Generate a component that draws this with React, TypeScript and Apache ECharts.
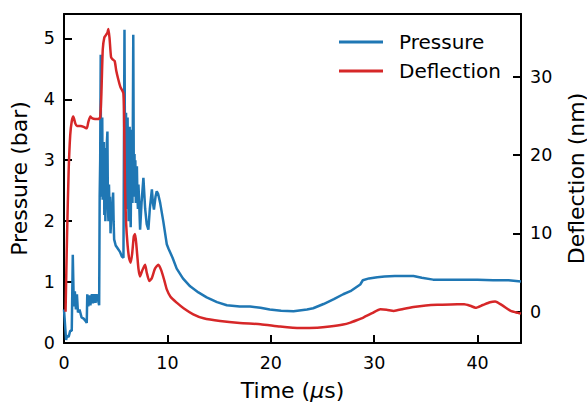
import React, { useEffect, useRef } from "react";
import * as echarts from "echarts";

// Pressure trace (time in µs, pressure in bar)
const pressureTime = [
  0.0, 0.1, 0.2, 0.3, 0.45, 0.6, 0.75, 0.85, 0.95, 1.05, 1.15, 1.25, 1.35, 1.5, 1.7, 1.9, 2.1, 2.2,
  2.25, 2.35, 2.45, 2.55, 2.7, 2.8, 2.95, 3.05, 3.15, 3.3, 3.4,
  3.45, 3.5, 3.55, 3.58, 3.62, 3.66, 3.7, 3.74, 3.78, 3.82, 3.86, 3.9, 3.95, 4.0, 4.05, 4.1, 4.15,
  4.2, 4.25, 4.3, 4.35, 4.4, 4.45, 4.5, 4.6, 4.7, 4.75, 4.8, 4.85, 5.0, 5.2, 5.4, 5.6, 5.75,
  5.85, 5.9, 5.95, 6.0, 6.04, 6.08, 6.12, 6.15, 6.2, 6.25, 6.3, 6.35, 6.4, 6.45, 6.5, 6.55, 6.6,
  6.62, 6.7, 6.75, 6.78, 6.82, 6.85, 6.9, 6.95, 7.0, 7.05, 7.1, 7.15, 7.2, 7.25, 7.36, 7.5,
  7.68, 7.85, 8.0, 8.16, 8.3, 8.5, 8.6, 8.7, 8.85, 8.97, 9.1, 9.3, 9.6, 9.94, 10.1, 10.5, 10.9,
  11.5, 12.2, 13.0, 13.8, 14.8, 15.75, 17.0, 18.0, 19.0, 19.9, 21.0, 22.2, 23.5, 24.1, 25.1, 26.1,
  27.0, 27.7, 28.3, 28.65, 28.9, 29.5, 30.3, 31.0, 32.0, 33.0, 33.8, 34.6, 35.7, 37.0, 38.5, 40.0,
  41.5, 43.0, 44.2,
];
const pressureValues = [
  0.55, 0.3, 0.05, 0.12, 0.1, 0.2, 0.2, 1.45, 0.6, 0.85, 0.55, 0.8, 0.5, 0.55, 0.42, 0.4, 0.36, 0.33,
  0.8, 0.6, 0.78, 0.62, 0.8, 0.65, 0.8, 0.66, 0.8, 0.7, 0.62,
  2.4, 3.0, 4.73, 2.5, 3.6, 2.4, 3.7, 2.35, 3.3, 2.6, 3.3, 2.1, 3.0, 2.0, 3.2, 2.3, 3.3,
  3.47, 2.2, 2.0, 2.6, 2.2, 2.4, 1.8, 2.2, 2.3, 2.47, 2.0, 1.7, 1.6, 1.55, 1.5, 1.42, 1.4,
  5.14, 3.0, 3.4, 3.78, 2.6, 2.2, 3.2, 3.7, 2.6, 2.0, 2.8, 3.55, 2.4, 1.9, 2.8, 3.5, 2.6,
  2.3, 5.06, 2.8, 2.4, 3.1, 2.6, 3.0, 2.3, 2.7, 2.9, 2.4, 2.2, 2.6, 2.4, 1.86, 2.3,
  2.71, 2.2, 1.95, 1.86, 2.2, 2.52, 2.3, 2.19, 2.4, 2.49, 2.45, 2.3, 2.0, 1.62, 1.55, 1.4, 1.22,
  1.06, 0.93, 0.83, 0.75, 0.67, 0.62, 0.6, 0.6, 0.58, 0.55, 0.53, 0.52, 0.55, 0.57, 0.64, 0.72,
  0.8, 0.85, 0.92, 0.96, 1.03, 1.06, 1.08, 1.09, 1.1, 1.1, 1.1, 1.07, 1.04, 1.04, 1.04, 1.04,
  1.03, 1.03, 1.01,
];

// Deflection trace (time in µs, deflection in nm)
const deflectionTime = [
  0.15, 0.3, 0.45, 0.6, 0.75, 0.9, 1.1, 1.25, 1.6, 1.9, 2.2, 2.35, 2.55, 2.7, 3.0, 3.3, 3.5, 3.62,
  3.75, 3.9, 4.05, 4.2, 4.29, 4.4, 4.55, 4.7, 4.9, 5.05, 5.26, 5.45, 5.74, 5.82, 5.9, 6.0, 6.15,
  6.3, 6.45, 6.6, 6.75, 6.87, 7.0, 7.2, 7.36, 7.55, 7.84, 8.0, 8.26, 8.5, 8.8, 9.13, 9.4, 9.7,
  9.94, 10.3, 10.9, 11.6, 12.5, 13.5, 15.1, 17.0, 19.0, 20.9, 22.8, 24.5, 25.7, 27.0, 27.7, 28.3,
  28.95, 29.8, 30.6, 31.2, 31.9, 32.8, 33.8, 35.0, 36.1, 37.4, 38.7, 39.3, 39.8, 40.5, 41.2, 41.7,
  42.4, 43.2, 43.9, 44.2,
];
const deflectionValues = [
  0, 10, 18, 22.5, 24.3, 24.9, 24.0, 23.7, 23.7, 23.6, 23.4, 24.2, 24.9, 24.7, 24.6, 24.6, 24.8, 28,
  33.5, 35.0, 35.3, 35.6, 36.1, 35.0, 32.5, 32.2, 32.0, 30.8, 29.6, 28.7, 27.9, 24, 16, 11.5, 8.5,
  6.8, 6.25, 7.5, 9.6, 9.9, 8.5, 5.5, 4.5, 5.2, 6.0, 5.0, 3.9, 4.3, 5.5, 6.0, 5.3, 4.0,
  2.84, 1.9, 1.15, 0.4, -0.34, -0.85, -1.2, -1.45, -1.6, -1.9, -2.1, -2.05, -1.9, -1.65, -1.4, -1.1,
  -0.75, -0.2, 0.3, 0.25, 0.1, 0.35, 0.6, 0.8, 0.89, 0.93, 0.95, 0.75, 0.5, 0.85, 1.2, 1.3,
  0.8, 0.1, -0.15, -0.25,
];

const timeTicks = [0, 10, 20, 30, 40];
const pressureTicks = [0, 1, 2, 3, 4, 5];
const deflectionTicks = [0, 10, 20, 30];

const FONT = "DejaVu Sans";

export default function App() {
  const ref = useRef<HTMLDivElement>(null);
  useEffect(() => {
    document.body.style.margin = "0";
    if (!ref.current) return;
    const chart = echarts.init(ref.current, null, { renderer: "svg" });
    const axisLine = { show: true, onZero: false, lineStyle: { color: "#000", width: 2 } };
    const tick = (vals: number[]) => ({
      show: true,
      inside: true,
      length: 8,
      customValues: vals,
      lineStyle: { color: "#000", width: 2 },
    });
    const label = (vals: number[], margin: number) => ({
      show: true,
      customValues: vals,
      margin,
      color: "#000",
      fontSize: 17.5,
      fontFamily: FONT,
    });
    const nameStyle = { color: "#000", fontSize: 22, fontFamily: FONT };
    chart.setOption({
      animation: false,
      grid: { left: 64, right: 66, top: 14, bottom: 60, outerBoundsMode: "none" },
      legend: {
        orient: "vertical",
        left: 339,
        top: 32,
        padding: 0,
        icon: "rect",
        itemWidth: 44,
        itemHeight: 3,
        itemGap: 9,
        textStyle: { color: "#000", fontSize: 20, fontFamily: FONT, padding: [0, 0, 0, 11] },
        data: ["Pressure", "Deflection"],
      },
      xAxis: [
        {
          type: "value",
          min: 0,
          max: 44.2,
          position: "bottom",
          axisLine,
          axisTick: tick(timeTicks),
          axisLabel: label(timeTicks, 11),
          splitLine: { show: false },
          name: "Time ({i|μ}s)",
          nameLocation: "middle",
          nameGap: 36,
          nameTextStyle: {
            ...nameStyle,
            rich: { i: { fontStyle: "italic", fontSize: 22, fontFamily: FONT, color: "#000" } },
          },
        },
        {
          type: "value",
          min: 0,
          max: 44.2,
          position: "top",
          axisLine,
          axisTick: { show: false },
          axisLabel: { show: false },
          splitLine: { show: false },
        },
      ],
      yAxis: [
        {
          type: "value",
          min: 0,
          max: 5.4,
          position: "left",
          axisLine,
          axisTick: tick(pressureTicks),
          axisLabel: label(pressureTicks, 9),
          splitLine: { show: false },
          name: "Pressure (bar)",
          nameLocation: "middle",
          nameRotate: 90,
          nameGap: 34,
          nameTextStyle: nameStyle,
        },
        {
          type: "value",
          min: -4,
          max: 38,
          position: "right",
          axisLine,
          axisTick: tick(deflectionTicks),
          axisLabel: label(deflectionTicks, 9),
          splitLine: { show: false },
          name: "Deflection (nm)",
          nameLocation: "middle",
          nameRotate: 90,
          nameGap: 44,
          nameTextStyle: nameStyle,
        },
      ],
      series: [
        {
          name: "Pressure",
          type: "line",
          xAxisIndex: 0,
          yAxisIndex: 0,
          symbol: "none",
          lineStyle: { color: "#1f77b4", width: 2.5 },
          itemStyle: { color: "#1f77b4" },
          data: pressureTime.map((t, i) => [t, pressureValues[i]]),
        },
        {
          name: "Deflection",
          type: "line",
          xAxisIndex: 0,
          yAxisIndex: 1,
          symbol: "none",
          smooth: 0.2,
          lineStyle: { color: "#d62728", width: 2.5 },
          itemStyle: { color: "#d62728" },
          data: deflectionTime.map((t, i) => [t, deflectionValues[i]]),
        },
      ],
    });
    return () => chart.dispose();
  }, []);
  return <div ref={ref} style={{ width: 587, height: 403 }} />;
}
